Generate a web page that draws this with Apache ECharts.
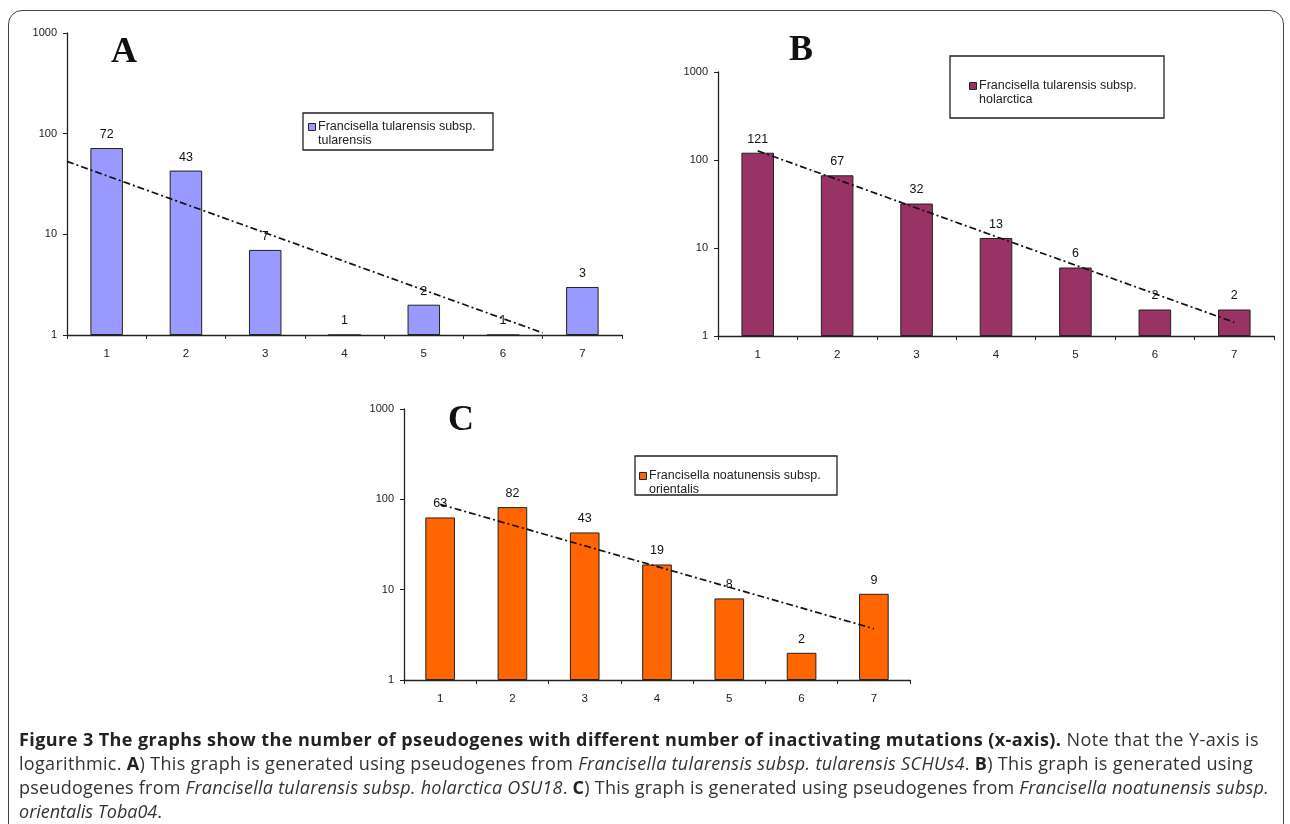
<!DOCTYPE html>
<html>
<head>
<meta charset="utf-8">
<script src="https://cdn.jsdelivr.net/npm/echarts@6.0.0/dist/echarts.min.js"></script>
<style>
  html, body { margin: 0; padding: 0; background: #fff; width: 1290px; height: 824px; overflow: hidden; }
  #frame { position: absolute; left: 8px; top: 10px; width: 1276px; height: 900px; border: 1.5px solid #444; border-radius: 14px; box-sizing: border-box; }
  #chart { position: absolute; left: 0; top: 0; width: 1290px; height: 824px; }
  #caption { position: absolute; left: 19px; top: 727px; font-family: "Open Sans", Lato, sans-serif; font-size: 18px; color: #333; }
  #caption .ln { height: 24px; line-height: 24px; white-space: nowrap; }
  #caption b { color: #222; font-weight: 700; }
</style>
</head>
<body>
<div id="frame"></div>
<div id="chart"></div>
<div id="caption">
  <div class="ln" data-w="1240"><b>Figure 3 The graphs show the number of pseudogenes with different number of inactivating mutations (x-axis).</b> Note that the Y-axis is</div>
  <div class="ln" data-w="1234">logarithmic. <b>A</b>) This graph is generated using pseudogenes from <i>Francisella tularensis subsp. tularensis SCHUs4</i>. <b>B</b>) This graph is generated using</div>
  <div class="ln" data-w="1250">pseudogenes from <i>Francisella tularensis subsp. holarctica OSU18</i>. <b>C</b>) This graph is generated using pseudogenes from <i>Francisella noatunensis subsp.</i></div>
  <div class="ln"><i>orientalis Toba04</i>.</div>
</div>
<script>
// ---- data ----
const categories = ['1', '2', '3', '4', '5', '6', '7'];
const valuesA = [72, 43, 7, 1, 2, 1, 3];
const valuesB = [121, 67, 32, 13, 6, 2, 2];
const valuesC = [63, 82, 43, 19, 8, 2, 9];
// dashed trend lines: endpoints ([x position, value])
const trendA = [[0.5, 53], [6.5, 1.05]];
const trendB = [[1, 127], [7, 1.43]];
const trendC = [[1, 88], [7, 3.7]];
const nameA = 'Francisella tularensis subsp.\ntularensis';
const nameB = 'Francisella tularensis subsp.\nholarctica';
const nameC = 'Francisella noatunensis subsp.\norientalis';
const panelLetters = ['A', 'B', 'C'];

// ---- layout ----
const panels = [
  { grid: { left: 67, top: 33, width: 555, height: 302 }, values: valuesA, trend: trendA, name: nameA, color: '#9999FF',
    letter: { x: 124, y: 53 }, legend: { x: 303, y: 113, w: 190, h: 37, mx: 312, my: 127 } },
  { grid: { left: 718, top: 72, width: 556, height: 264 }, values: valuesB, trend: trendB, name: nameB, color: '#993366',
    letter: { x: 801, y: 51 }, legend: { x: 950, y: 56, w: 214, h: 62, mx: 973, my: 86 } },
  { grid: { left: 404, top: 409, width: 506, height: 271 }, values: valuesC, trend: trendC, name: nameC, color: '#FF6600',
    letter: { x: 461, y: 421 }, legend: { x: 635, y: 456, w: 202, h: 39, mx: 643, my: 476 } }
];

const axisFont = 'Liberation Sans';
const grids = [], xAxes = [], yAxes = [], series = [], graphics = [];

panels.forEach((p, i) => {
  grids.push(Object.assign({ containLabel: false }, p.grid));
  xAxes.push({
    type: 'category', gridIndex: i, data: categories, boundaryGap: true,
    axisLine: { show: true, lineStyle: { color: '#222', width: 1.3 } },
    axisTick: { show: true, length: 4, alignWithLabel: false, lineStyle: { color: '#222' } },
    axisLabel: { fontSize: 11.5, color: '#222', fontFamily: axisFont, margin: 13 },
    splitLine: { show: false }
  });
  yAxes.push({
    type: 'log', logBase: 10, gridIndex: i, min: 1, max: 1000,
    axisLine: { show: true, lineStyle: { color: '#222', width: 1.3 } },
    axisTick: { show: true, length: 4, lineStyle: { color: '#222' } },
    minorTick: { show: false },
    axisLabel: { fontSize: 11, color: '#222', fontFamily: axisFont, margin: 10, formatter: v => String(Math.round(v)) },
    splitLine: { show: false }
  });
  series.push({
    type: 'bar', name: p.name, xAxisIndex: i, yAxisIndex: i, data: p.values,
    barWidth: '41%',
    itemStyle: { color: p.color, borderColor: '#222', borderWidth: 1 },
    label: { show: true, position: 'top', distance: 7, fontSize: 12.5, color: '#111', fontFamily: axisFont },
    silent: true, animation: false
  });
});
// hidden value x axes for the trend lines
panels.forEach((p, i) => {
  xAxes.push({ type: 'value', gridIndex: i, min: 0.5, max: 7.5, show: false });
  series.push({
    type: 'line', xAxisIndex: 3 + i, yAxisIndex: i, data: p.trend,
    symbol: 'none', z: 5, silent: true, animation: false,
    lineStyle: { color: '#111', width: 1.7, type: [7, 3, 2, 3] }
  });
  // panel letter
  graphics.push({
    type: 'text', x: p.letter.x, y: p.letter.y,
    style: { text: panelLetters[i], font: 'bold 36px "Liberation Serif", "Times New Roman", serif', fill: '#111', align: 'center', verticalAlign: 'middle' }
  });
  // legend box
  const L = p.legend;
  graphics.push({ type: 'rect', shape: { x: L.x, y: L.y, width: L.w, height: L.h },
    style: { fill: '#fff', stroke: '#222', lineWidth: 1.3 }, z: 10 });
  graphics.push({ type: 'rect', shape: { x: L.mx - 3.5, y: L.my - 3.5, width: 7, height: 7 },
    style: { fill: p.color, stroke: '#222', lineWidth: 1 }, z: 11 });
  graphics.push({ type: 'text', x: L.mx + 6, y: L.my - 7, z: 11,
    style: { text: p.name, font: '12.5px "Liberation Sans", Arial, sans-serif', fill: '#222', lineHeight: 13.5, align: 'left', verticalAlign: 'top' } });
});

const chart = echarts.init(document.getElementById('chart'), null, { renderer: 'canvas' });
chart.setOption({
  animation: false,
  backgroundColor: 'transparent',
  grid: grids, xAxis: xAxes, yAxis: yAxes, series: series, graphic: graphics
});

// fit caption lines to the widths seen in the reference
document.querySelectorAll('#caption .ln[data-w]').forEach(el => {
  const target = +el.dataset.w;
  const span = document.createElement('span');
  span.innerHTML = el.innerHTML; el.innerHTML = ''; el.appendChild(span);
  const cur = span.getBoundingClientRect().width;
  const n = span.textContent.length;
  span.style.letterSpacing = ((target - cur) / n) + 'px';
});
</script>
</body>
</html>
